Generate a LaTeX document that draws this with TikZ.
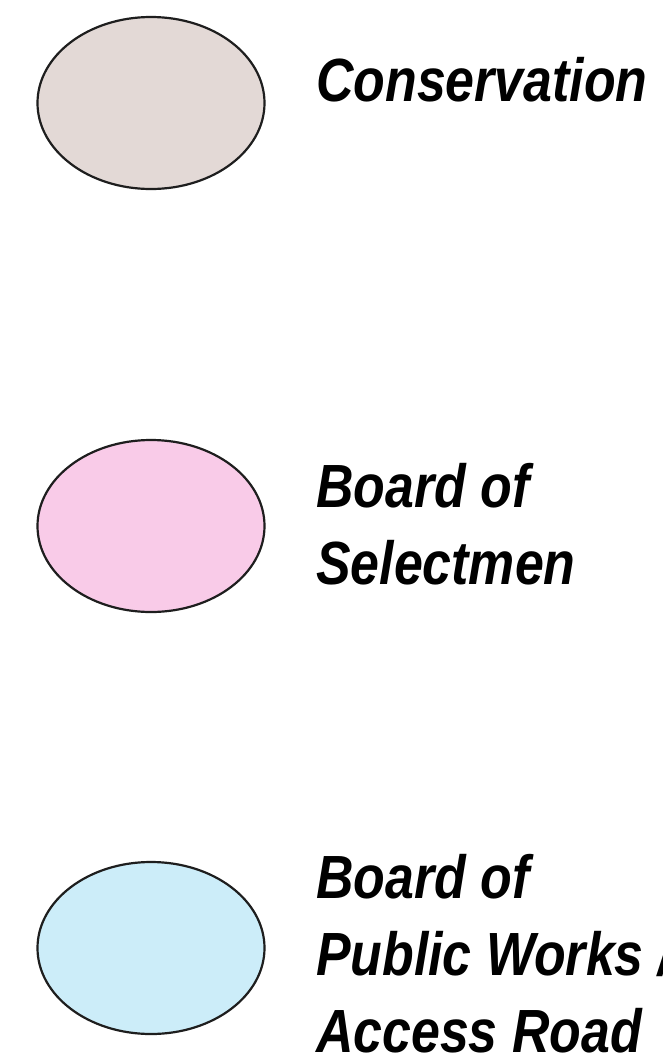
\documentclass[tikz,border=0pt]{standalone}
\usepackage{fontspec}
\setmainfont{Liberation Sans}[FakeStretch=0.85]
\usetikzlibrary{shapes.geometric}
\definecolor{consfill}{HTML}{E3D9D6}
\definecolor{selfill}{HTML}{F9CBE8}
\definecolor{bpwfill}{HTML}{CCEDF9}
\definecolor{edge}{HTML}{1E1E1E}
\tikzset{
  blob/.style={ellipse, draw=edge, line width=2.2pt, minimum width=227pt, minimum height=172pt, inner sep=0pt},
  label/.style={anchor=base west, align=left, inner sep=0pt, font=\fontsize{61}{77}\selectfont\bfseries\itshape}
}
\begin{document}
\begin{tikzpicture}[x=1pt,y=-1pt]
\useasboundingbox[fill=white] (0,0) rectangle (663,1063);
\node[blob, fill=consfill] (e1) at (151,103) {};
\node[blob, fill=selfill] (e2) at (151,526) {};
\node[blob, fill=bpwfill] (e3) at (151,948) {};
\node[label] (t1) at (316,101) {Conservation};
\node[label] (t2) at (316,584) {Board of\\Selectmen};
\node[label] (t3) at (316,1052) {Board of\\Public Works /\\Access Road};
\end{tikzpicture}
\end{document}
